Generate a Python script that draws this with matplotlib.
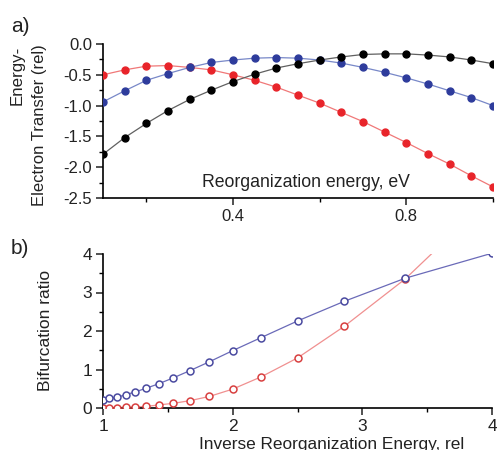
import numpy as np
import matplotlib
matplotlib.use('Agg')
import matplotlib.pyplot as plt
from matplotlib.ticker import MultipleLocator

plt.rcParams['font.family'] = ['Liberation Sans', 'DejaVu Sans']

# panel a) data
lam = [0.1, 0.15, 0.2, 0.25, 0.3, 0.35, 0.4, 0.45, 0.5, 0.55,
       0.6, 0.65, 0.7, 0.75, 0.8, 0.85, 0.9, 0.95, 1.0]
et_red = [-0.50, -0.42, -0.36, -0.35, -0.38, -0.42, -0.50, -0.59, -0.70, -0.83,
          -0.96, -1.11, -1.26, -1.43, -1.60, -1.78, -1.95, -2.14, -2.32]
et_blue = [-0.94, -0.76, -0.59, -0.48, -0.38, -0.30, -0.26, -0.23, -0.22, -0.23,
           -0.26, -0.31, -0.38, -0.46, -0.55, -0.65, -0.76, -0.87, -1.00]
et_black = [-1.79, -1.52, -1.29, -1.08, -0.90, -0.75, -0.61, -0.49, -0.39, -0.32,
            -0.26, -0.21, -0.17, -0.16, -0.16, -0.18, -0.21, -0.26, -0.32]

# panel b) data
inv = [1.0, 1.05, 1.11, 1.18, 1.25, 1.33, 1.43, 1.54, 1.67, 1.82,
       2.0, 2.22, 2.5, 2.86, 3.33, 4.0]
bif_blue = [0.22, 0.25, 0.28, 0.35, 0.42, 0.51, 0.63, 0.78, 0.97, 1.20,
            1.49, 1.83, 2.26, 2.77, 3.37, 4.02]
bif_red = [0.0, 0.01, 0.01, 0.02, 0.03, 0.04, 0.08, 0.12, 0.19, 0.30,
           0.49, 0.81, 1.30, 2.12, 3.35, 5.5]

W, H = 497, 450
fig = plt.figure(figsize=(W/100, H/100), dpi=100)

ax1 = fig.add_axes([103/W, 1-198/H, 390/W, 154/H])
ax2 = fig.add_axes([103/W, 1-408/H, 389/W, 154/H])

txt = '#222222'
for ax in (ax1, ax2):
    ax.spines['top'].set_visible(False)
    ax.spines['right'].set_visible(False)
    ax.spines['left'].set_linewidth(1.2)
    ax.spines['bottom'].set_linewidth(1.2)
    ax.tick_params(which='major', direction='out', length=5, width=1.1, pad=3)
    ax.tick_params(which='minor', direction='out', length=3, width=1.0)
    ax.set_facecolor('none')

# a)
ax1.plot(lam, et_red, '-', color='#f07878', lw=0.9, zorder=2)
ax1.plot(lam, et_red, 'o', color='#e8242a', ms=5, zorder=3)
ax1.plot(lam, et_blue, '-', color='#7888c8', lw=0.9, zorder=2)
ax1.plot(lam, et_blue, 'o', color='#2e3c9c', ms=5, zorder=3)
ax1.plot(lam, et_black, '-', color='#606060', lw=0.9, zorder=2)
ax1.plot(lam, et_black, 'o', color='#000000', ms=5, zorder=3)
ax1.set_xlim(0.1, 1.0)
ax1.set_ylim(-2.5, 0.0)
ax1.xaxis.set_major_locator(MultipleLocator(0.4))
ax1.xaxis.set_minor_locator(MultipleLocator(0.2))
ax1.yaxis.set_major_locator(MultipleLocator(0.5))
ax1.yaxis.set_minor_locator(MultipleLocator(0.25))
ax1.set_yticks([0.0, -0.5, -1.0, -1.5, -2.0, -2.5])
ax1.set_yticklabels(['0.0', '-0.5', '-1.0', '-1.5', '-2.0', '-2.5'])
ax1.tick_params(labelsize=12, colors=txt)
ax1.text(0.52, 0.1, 'Reorganization energy, eV', transform=ax1.transAxes,
         ha='center', va='center', fontsize=12.7, color=txt)
fig.text(17/W, 1-75/H, 'Energy-', rotation=90, ha='center', va='center',
         fontsize=12.2, color=txt)
fig.text(40/W, 1-125/H, 'Electron Transfer (rel)', rotation=90, ha='center',
         va='center', fontsize=12, color=txt)
fig.text(20/W, 1-26/H, 'a)', ha='center', va='center', fontsize=15, color=txt)

# b)
ax2.plot(inv, bif_red, '-', color='#f09090', lw=0.9, zorder=2)
ax2.plot(inv, bif_red, 'o', mfc='white', mec='#d84040', mew=1.1, ms=5, zorder=3)
ax2.plot(inv, bif_blue, '-', color='#6a6ab8', lw=0.9, zorder=4)
ax2.plot(inv, bif_blue, 'o', mfc='white', mec='#4a4aa0', mew=1.1, ms=5, zorder=5)
ax2.set_xlim(1, 4)
ax2.set_ylim(0, 4)
ax2.xaxis.set_major_locator(MultipleLocator(1))
ax2.xaxis.set_minor_locator(MultipleLocator(0.5))
ax2.yaxis.set_major_locator(MultipleLocator(1))
ax2.yaxis.set_minor_locator(MultipleLocator(0.5))
ax2.tick_params(labelsize=12.5, colors=txt)
fig.text(45/W, 1-330/H, 'Bifurcation ratio', rotation=90, ha='center',
         va='center', fontsize=12.5, color=txt)
fig.text(332/W, 1-444/H, 'Inverse Reorganization Energy, rel', ha='center',
         va='center', fontsize=12.4, color=txt)
fig.text(20/W, 1-248/H, 'b)', ha='center', va='center', fontsize=15, color=txt)

fig.savefig('out.png', dpi=100)
